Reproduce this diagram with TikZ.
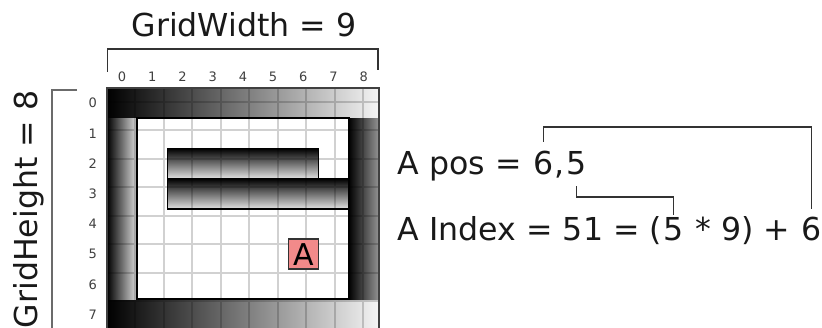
\documentclass[tikz,border=0pt]{standalone}
\usepackage{fontspec}
\setmainfont{DejaVu Sans}
\usetikzlibrary{positioning, calc}
\definecolor{cagent}{HTML}{F28A8A}
\definecolor{cline}{HTML}{333333}
\definecolor{cgrey}{HTML}{6B6B6B}
\tikzset{
  every picture/.style={line width=1.5pt},
  big/.style={font=\fontsize{31.6}{38}\selectfont, text=black!90, inner sep=0pt},
  idx/.style={font=\fontsize{13}{15}\selectfont, text=black!75, inner sep=0pt},
  gridline/.style={draw=black, opacity=0.18, line width=2pt},
  wall/.style={draw=black, line width=2pt},
  agent/.style={draw=black!80, fill=cagent, minimum size=30pt, inner sep=0pt, font=\fontsize{30}{36}\selectfont},
  link/.style={draw=cline, line width=1.6pt},
  brace/.style={draw=#1, line width=1.6pt},
  brace/.default=cline,
}

\begin{document}
\begin{tikzpicture}[x=1pt, y=1pt]
  \useasboundingbox (0,0) rectangle (822,327);
  % the grid, one unit per cell, row 0 at the top
  \begin{scope}[shift={(107,-2.6)}, x=30.2pt, y=30.2pt]
    \fill[white] (0,0) rectangle (9,8);
    \shade[left color=black, right color=white!96!black] (0,7) rectangle (9,8);
    \shade[left color=black, right color=white!96!black] (0,0) rectangle (9,1);
    \shade[left color=black, right color=black!12] (0,1) rectangle (1,7);
    \shade[left color=black, right color=black!42] (8,1) rectangle (9,7);
    \shade[top color=black, bottom color=black!12] (2,5) rectangle (7,6);
    \shade[top color=black, bottom color=black!12] (2,4) rectangle (8,5);
    \draw[gridline] (0,0) grid (9,8);
    \draw[wall] (1,1) rectangle (8,7);
    \draw[wall, line width=1.6pt] (2,5) rectangle (7,6);
    \draw[wall, line width=1.6pt] (2,4) rectangle (8,5);
    \draw[black!75, line width=1.5pt] (0,0) rectangle (9,8);
    \node[agent] (agent) at (6.5,2.5) {A};
    \foreach \i in {0,...,8}
      \node[idx] (col\i) at (\i+0.5,8.37) {\i};
    \foreach \j in {0,...,7}
      \node[idx] (row\j) at (-0.47,7.5-\j) {\j};
  \end{scope}

  % size labels
  \node[big, anchor=base] (gw) at (244,290) {GridWidth = 9};
  \coordinate (wl) at (107.5,255);
  \coordinate (wr) at (378,257);
  \draw[brace] (wl) |- (wr |- 0,278) -- (wr);
  \node[big, rotate=90, anchor=base east] (gh) at (37,237) {GridHeight = 8};
  \coordinate (ht) at (77,237);
  \coordinate (hb) at (52,-5);
  \draw[brace=cgrey, line width=2pt] (ht) -| (hb);

  % position and index
  \node[big, anchor=base west] (posa) at (397,152) {A pos =};
  \node[big, base right=10pt of posa] (posx) {6};
  \node[big, base right=0pt of posx] (posc) {,};
  \node[big, base right=0pt of posc] (posy) {5};
  \node[big, anchor=base west] (idxa) at (397,87) {A Index = 51 = (};
  \node[big, base right=0pt of idxa] (idxy) {5};
  \node[big, base right=10pt of idxy] (idxb) {* 9) +};
  \node[big, base right=10pt of idxb] (idxx) {6};
  \coordinate (topbar) at (0,200);
  \coordinate (midbar) at (0,130);
  \draw[link] ([yshift=9pt]posx.north) |- (topbar -| idxx.north) -- ([yshift=7pt]idxx.north);
  \draw[link] ([yshift=-10pt]posy.south) |- (midbar -| idxy.north) -- ([yshift=1pt]idxy.north);
\end{tikzpicture}
\end{document}
